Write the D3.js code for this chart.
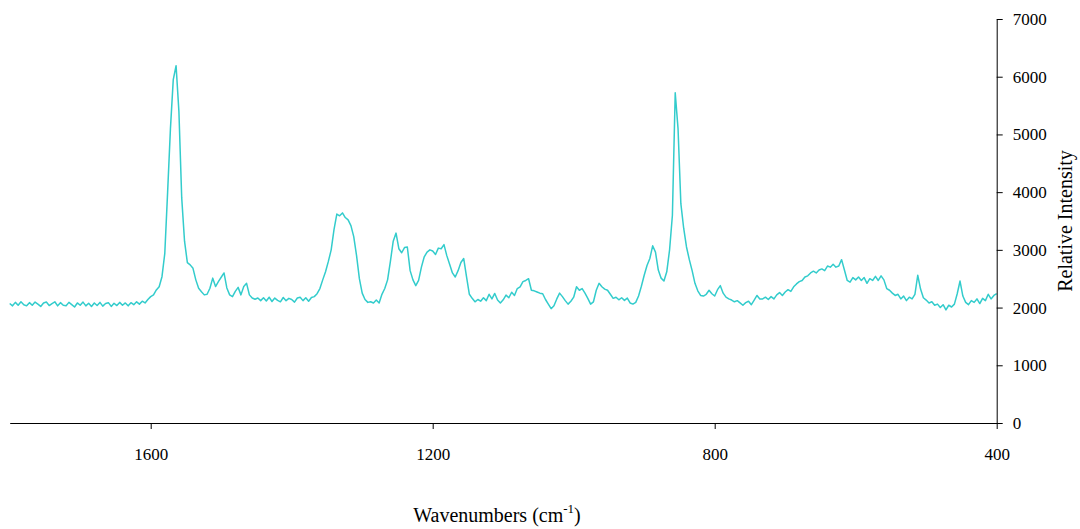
<!DOCTYPE html>
<html>
<head>
<meta charset="utf-8">
<script src="https://cdn.jsdelivr.net/npm/d3@7"></script>
<style>
  html, body { margin: 0; padding: 0; background: #fff; }
  svg { display: block; }
</style>
</head>
<body>
<svg id="chart" width="1080" height="529"></svg>
<script>
// Raman spectrum: wavenumber grid (cm-1) runs from 1800 down to 400 in steps of 4
const waveStart = 1800;
const waveStep = 4;

// Relative intensity at each wavenumber, 1800 -> 400 cm-1
const intensity = [
  2070, 2030, 2090, 2040, 2100, 2050, 2030, 2085, 2040, 2095,
  2060, 2020, 2080, 2095, 2035, 2070, 2100, 2030, 2085, 2040,
  2030, 2090, 2050, 2010, 2080, 2040, 2095, 2030, 2075, 2020,
  2080, 2035, 2090, 2025, 2070, 2085, 2020, 2075, 2035, 2090,
  2040, 2080, 2030, 2085, 2050, 2100, 2060, 2110, 2080, 2140,
  2190, 2220, 2305, 2360, 2535, 2940, 4000, 5100, 5950, 6190,
  5400, 3900, 3150, 2780, 2740, 2680, 2480, 2335, 2275, 2220,
  2230, 2335, 2510, 2365, 2450, 2525, 2600, 2340, 2220, 2190,
  2280, 2350, 2220, 2365, 2420, 2220, 2165, 2145, 2165, 2120,
  2170, 2115, 2180, 2105, 2165, 2125, 2100, 2175, 2120, 2160,
  2140, 2095, 2165, 2180, 2120, 2170, 2110, 2175, 2190, 2240,
  2330, 2480, 2620, 2800, 3000, 3350, 3620, 3590, 3640, 3560,
  3520, 3420, 3230, 2900, 2500, 2250, 2140, 2090, 2100, 2080,
  2130, 2080, 2230, 2330, 2480, 2800, 3150, 3290, 3020, 2950,
  3040, 3050, 2640, 2480, 2380, 2470, 2700, 2880, 2960, 3000,
  2980, 2920, 3030, 3020, 3090, 2900, 2750, 2600, 2530, 2640,
  2780, 2850, 2530, 2230, 2160, 2100, 2140, 2110, 2170, 2120,
  2230, 2150, 2245, 2130, 2080, 2135, 2215, 2170, 2265, 2210,
  2330, 2360, 2450, 2470, 2500, 2300, 2290, 2270, 2250, 2240,
  2140, 2060, 1980, 2030, 2150, 2250, 2190, 2120, 2060, 2110,
  2180, 2360, 2300, 2330, 2250, 2160, 2060, 2100, 2300, 2420,
  2360, 2320, 2300, 2230, 2160, 2180, 2135, 2170, 2125, 2165,
  2080, 2060, 2090, 2200, 2370, 2560, 2730, 2850, 3070, 2960,
  2650, 2510, 2460, 2620, 3000, 3600, 5720, 5100, 3800, 3375,
  3050, 2830, 2640, 2420, 2290, 2210, 2200, 2230, 2300, 2240,
  2200, 2310, 2380, 2250, 2180, 2150, 2130, 2100, 2120, 2080,
  2040, 2085, 2110, 2050, 2130, 2210, 2150, 2150, 2180, 2140,
  2190, 2150, 2220, 2260, 2210, 2270, 2310, 2280, 2360, 2410,
  2450, 2470, 2530, 2550, 2600, 2630, 2600, 2650, 2670, 2640,
  2720, 2700, 2750, 2700, 2720, 2830, 2650, 2470, 2440, 2520,
  2480, 2530, 2470, 2520, 2420, 2500, 2470, 2540, 2470, 2550,
  2480, 2330, 2300, 2250, 2210, 2230, 2150, 2200, 2120, 2180,
  2150, 2230, 2560, 2320, 2170, 2130, 2080, 2100, 2040, 2060,
  2000, 2050, 1960, 2040, 2010, 2060, 2240, 2460, 2200, 2090,
  2050, 2120, 2090, 2150, 2070, 2160, 2120, 2230, 2150, 2210,
  2240
];

// Axis ticks
const xTicks = [1600, 1200, 800, 400];
const yTicks = [0, 1000, 2000, 3000, 4000, 5000, 6000, 7000];

const spectrum = intensity.map((v, i) => ({ wn: waveStart - i * waveStep, value: v }));

const svg = d3.select("#chart");

const x = d3.scaleLinear().domain([1800, 400]).range([9.7, 996.7]);
const y = d3.scaleLinear().domain([0, 7000]).range([423, 19]);

const tickFont = "17px";
const titleFont = "20px";
const fontFamily = "'Liberation Serif', Tinos, 'Times New Roman', 'DejaVu Serif', serif";

// Spectrum trace
svg.append("path")
  .datum(spectrum)
  .attr("fill", "none")
  .attr("stroke", "#33CCCC")
  .attr("stroke-width", 1.5)
  .attr("stroke-linejoin", "round")
  .attr("d", d3.line().x(d => x(d.wn)).y(d => y(d.value)));

// Bottom wavenumber axis
const xAxis = svg.append("g")
  .attr("transform", `translate(0,${y(0)})`)
  .call(d3.axisBottom(x).tickValues(xTicks).tickFormat(d3.format("d"))
    .tickSize(6).tickSizeOuter(0).tickPadding(19));

// Right intensity axis
const yAxis = svg.append("g")
  .attr("transform", `translate(${x(400)},0)`)
  .call(d3.axisRight(y).tickValues(yTicks).tickFormat(d3.format("d"))
    .tickSize(6).tickSizeOuter(0).tickPadding(10));

[xAxis, yAxis].forEach(g => {
  g.attr("font-family", fontFamily).attr("font-size", tickFont);
  g.selectAll("path, line").attr("stroke", "#000").attr("stroke-width", 1);
  g.selectAll("text").attr("fill", "#000").attr("font-family", fontFamily);
});

// Axis titles
const xTitle = svg.append("text")
  .attr("x", 497)
  .attr("y", 522)
  .attr("text-anchor", "middle")
  .attr("font-family", fontFamily)
  .attr("font-size", titleFont)
  .attr("fill", "#000");
xTitle.append("tspan").text("Wavenumbers (cm");
xTitle.append("tspan").attr("dy", -9).attr("font-size", "13px").text("-1");
xTitle.append("tspan").attr("dy", 9).text(")");

svg.append("text")
  .attr("transform", "translate(1072,221) rotate(-90)")
  .attr("text-anchor", "middle")
  .attr("font-family", fontFamily)
  .attr("font-size", titleFont)
  .attr("fill", "#000")
  .text("Relative Intensity");
</script>
</body>
</html>
